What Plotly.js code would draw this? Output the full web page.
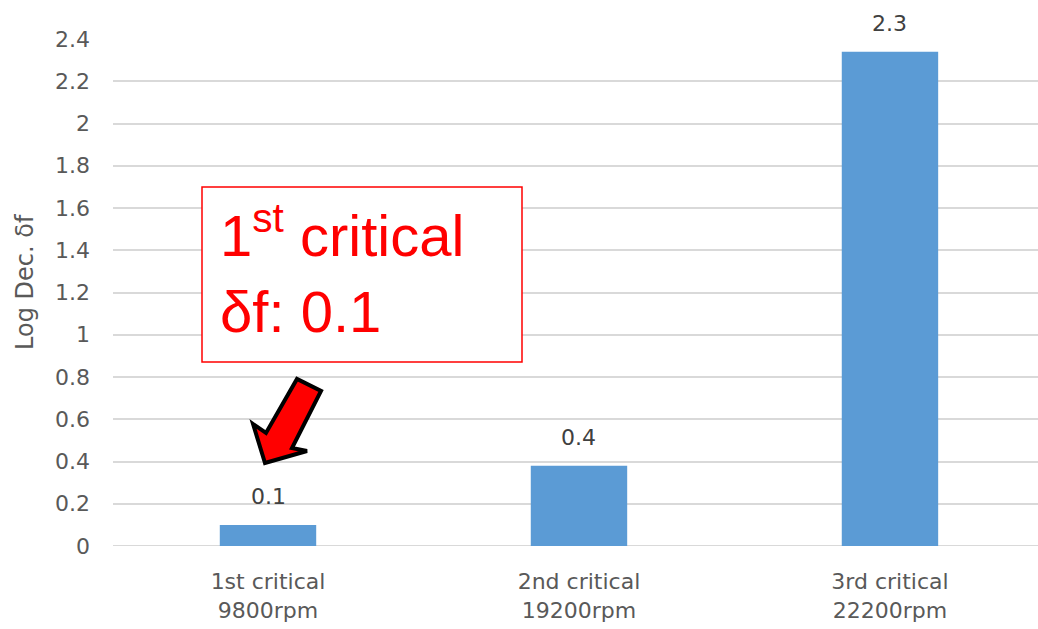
<!DOCTYPE html>
<html>
<head>
<meta charset="utf-8">
<script src="https://cdn.plot.ly/plotly-3.0.1.min.js"></script>
<style>
  html, body { margin: 0; padding: 0; background: #ffffff; }
  #chart { width: 1038px; height: 629px; }
</style>
</head>
<body>
<div id="chart"></div>
<script>
// Critical speeds and their logarithmic decrement
const modes = ['1st critical', '2nd critical', '3rd critical'];
const speeds = ['9800rpm', '19200rpm', '22200rpm'];
const logDec = [0.1, 0.38, 2.34];
const yTicks = [0, 0.2, 0.4, 0.6, 0.8, 1, 1.2, 1.4, 1.6, 1.8, 2, 2.2, 2.4];

const categories = modes.map((m, i) => m + '<br>' + speeds[i]);

const W = 1038, H = 629;
const margin = { l: 113, r: 0, t: 39, b: 83 };
const plotW = W - margin.l - margin.r;
const plotH = H - margin.t - margin.b;

// convert page pixels to paper fractions for the callout decorations
const px = x => (x - margin.l) / plotW;
const py = y => (H - margin.b - y) / plotH;

const tickFont = { family: 'DejaVu Sans', size: 22, color: '#595959' };

const bars = {
  type: 'bar',
  x: categories,
  y: logDec,
  width: 0.31,
  marker: { color: '#5b9bd5', line: { width: 0 } },
  hoverinfo: 'x+y',
  showlegend: false
};

// value labels above each bar
const valueLabels = logDec.map((v, i) => ({
  x: categories[i],
  y: v,
  xref: 'x',
  yref: 'y',
  text: v.toFixed(1),
  showarrow: false,
  yanchor: 'bottom',
  yshift: 14,
  font: { family: 'DejaVu Sans', size: 22, color: '#404040' }
}));

// block arrow pointing at the first bar
const arrowPts = [
  [265, 463], [253, 424], [266, 433], [297, 379],
  [321, 391], [292, 448], [307, 451]
];
const arrowPath = 'M ' + arrowPts.map(p => px(p[0]).toFixed(4) + ',' + py(p[1]).toFixed(4)).join(' L ') + ' Z';

const layout = {
  width: W,
  height: H,
  margin: margin,
  paper_bgcolor: '#ffffff',
  plot_bgcolor: '#ffffff',
  xaxis: {
    type: 'category',
    range: [-0.4984, 2.476],
    showgrid: false,
    showline: false,
    zeroline: false,
    ticks: '',
    tickfont: tickFont,
    ticklabelstandoff: 20,
    fixedrange: true
  },
  yaxis: {
    range: [0, 2.4],
    tickvals: yTicks,
    ticktext: yTicks.map(String),
    showgrid: true,
    gridcolor: '#d9d9d9',
    gridwidth: 2,
    zeroline: false,
    showline: false,
    ticks: '',
    tickfont: tickFont,
    ticklabelstandoff: 22,
    fixedrange: true
  },
  shapes: [
    {
      type: 'line', xref: 'paper', yref: 'y',
      x0: 0, x1: 1, y0: 0, y1: 0,
      line: { color: '#d9d9d9', width: 2 }, layer: 'below'
    },
    {
      type: 'rect', xref: 'paper', yref: 'paper',
      x0: px(202), x1: px(522), y0: py(362), y1: py(187),
      fillcolor: '#ffffff',
      line: { color: '#ff0000', width: 1.5 },
      layer: 'above'
    },
    {
      type: 'path', xref: 'paper', yref: 'paper',
      path: arrowPath,
      fillcolor: '#ff0000',
      line: { color: '#000000', width: 4 },
      layer: 'above'
    }
  ],
  annotations: valueLabels.concat([
    {
      xref: 'paper', yref: 'paper',
      x: px(25), y: py(282),
      text: 'Log Dec. δf',
      textangle: -90,
      showarrow: false,
      xanchor: 'center', yanchor: 'middle',
      font: { family: 'DejaVu Sans', size: 24, color: '#595959' }
    },
    {
      xref: 'paper', yref: 'paper',
      x: px(219), y: py(194),
      text: '1<sup>st</sup> critical<br>δf: 0.1',
      align: 'left',
      showarrow: false,
      xanchor: 'left', yanchor: 'top',
      borderpad: 0,
      font: { family: 'Liberation Sans', size: 58, color: '#ff0000' }
    }
  ])
};

Plotly.newPlot('chart', [bars], layout, { displayModeBar: false, staticPlot: true });
</script>
</body>
</html>
